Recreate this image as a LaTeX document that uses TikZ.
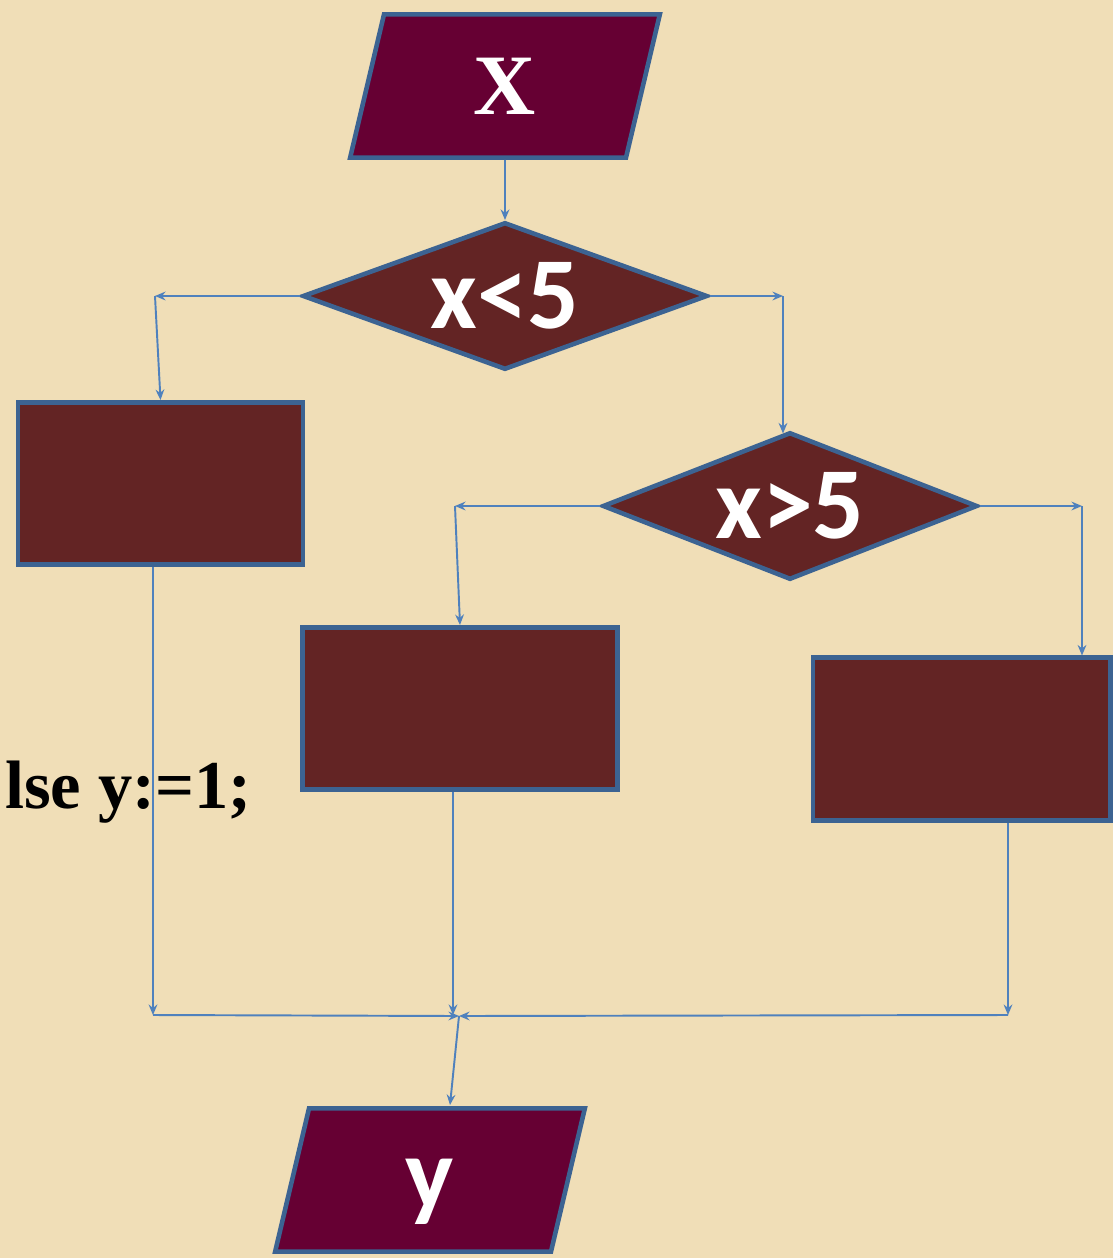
\documentclass[tikz,border=0pt]{standalone}
\usepackage{fontspec}
\setmainfont{Liberation Serif}
\newfontfamily\calfont{Carlito}
\usetikzlibrary{arrows.meta,shapes.geometric}
\definecolor{parch}{RGB}{240,222,183}
\definecolor{plum}{RGB}{102,0,51}
\definecolor{maroon}{RGB}{99,36,36}
\definecolor{rim}{RGB}{60,99,146}
\definecolor{wire}{RGB}{79,129,189}
\tikzset{
  shp/.style={draw=rim,line width=2.6pt,inner sep=0pt,text=white},
  io/.style={shp,trapezium,trapezium left angle=76.7,trapezium right angle=103.3,
             fill=plum,text width=4.84cm,align=center,text height=56.8pt,text depth=24.8pt},
  test/.style={shp,diamond,fill=maroon,font=\calfont\bfseries\fontsize{58}{60}\selectfont},
  act/.style={shp,rectangle,fill=maroon},
  fl/.style={wire,line width=1.1pt,-{Stealth[length=6pt,width=5pt,inset=2pt]}},
}
\begin{document}
\begin{tikzpicture}[x=0.02cm,y=-0.02cm]
\fill[parch] (0,0) rectangle (1113,1258);
\useasboundingbox (0,0) rectangle (1113,1258);
% code fragment behind the chart
\node[anchor=base east,inner sep=0pt,font=\bfseries\fontsize{39}{40}\selectfont] (code) at (252,808) {lse y:=1;};
% shapes
\node[io,font=\bfseries\fontsize{49}{50}\selectfont] (xin) at (505,86) {X};
\node[test,aspect=2.73,minimum width=8.1cm,minimum height=2.95cm] (d1) at (505,296) {x<5};
\node[test,aspect=2.51,minimum width=7.5cm,minimum height=2.95cm] (d2) at (790,506) {x>5};
\node[act,minimum width=5.7cm,minimum height=3.25cm] (b1) at (160.5,483.5) {};
\node[act,minimum width=6.3cm,minimum height=3.25cm] (b2) at (460,708.5) {};
\node[act,minimum width=5.95cm,minimum height=3.25cm] (b3) at (961.5,739) {};
\node[io,font=\calfont\bfseries\fontsize{58}{60}\selectfont] (yout) at (430,1180) {y};
% bends and joins
\coordinate (l1) at (155,296);
\coordinate (r1) at (783,296);
\coordinate (l2) at (455,506);
\coordinate (r2) at (1082,506);
\coordinate (m1) at (153,1015);
\coordinate (m2) at (453,1015);
\coordinate (m3) at (1008,1015);
\coordinate (mj) at (459,1016);
\coordinate (yin) at (450,1105);
% connectors
\draw[fl] (xin.south) -- (d1.north);
\draw[fl] (d1.west) -- (l1);
\draw[fl] (l1) -- (b1.north);
\draw[fl] (d1.east) -- (r1);
\draw[fl] (r1) -- ([yshift=-2pt]r1 |- d2.north);
\draw[fl] (d2.west) -- (l2);
\draw[fl] (l2) -- (b2.north);
\draw[fl] (d2.east) -- (r2);
\draw[fl] (r2) -- (r2 |- b3.north);
\draw[fl] (m1 |- b1.south) -- (m1);
\draw[fl] (m2 |- b2.south) -- (m2);
\draw[fl] (m3 |- b3.south) -- (m3);
\draw[fl] (m1) -- (mj);
\draw[fl] (m3) -- (mj);
\draw[fl] (mj) -- (yin);
\end{tikzpicture}
\end{document}
